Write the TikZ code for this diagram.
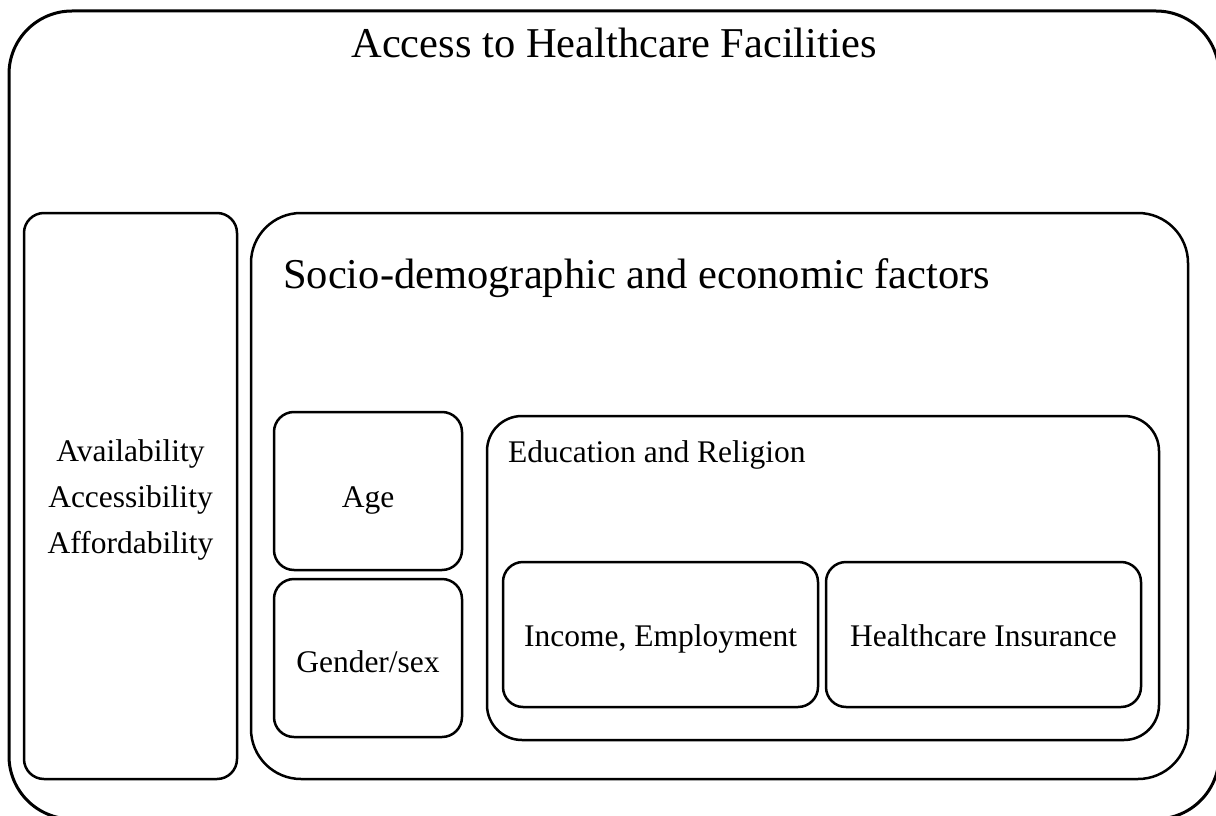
\documentclass[tikz,border=0pt]{standalone}
\usepackage{fontspec}
\setmainfont{Liberation Serif}

\begin{document}
\begin{tikzpicture}[x=1pt,y=-1pt,
  box/.style={draw=black,line width=2.5pt,rounded corners=#1},
  box/.default=20pt,
  big/.style={font=\fontsize{42.5}{50}\selectfont},
  small/.style={font=\fontsize{31.5}{46}\selectfont}]
\clip (0,0) rectangle (1216,816);
% outer frame
\draw[box=63pt,line width=3pt] (9,11) rectangle (1219,819);
\node[big,anchor=base] (title) at (614,58) {Access to Healthcare Facilities};
% left column
\draw[box] (24,213) rectangle (237,779);
\node[small,align=center,anchor=base] (aaa) at (130.5,553) {Availability\\Accessibility\\Affordability};
% socio-demographic frame
\draw[box=50pt] (251,213) rectangle (1188,779);
\node[big,anchor=base west,inner sep=0pt] (socio) at (283,288) {Socio-demographic and economic factors};
\draw[box] (274,412) rectangle (462,570);
\node[small,anchor=base] (age) at (368,507) {Age};
\draw[box] (274,579) rectangle (462,737);
\node[small,anchor=base] (gender) at (368,672) {Gender/sex};
% education frame
\draw[box=35pt] (487,416) rectangle (1159,740);
\node[small,anchor=base west,inner sep=0pt] (edu) at (508,462) {Education and Religion};
\draw[box] (503,562) rectangle (818,707);
\node[small,anchor=base] (income) at (660.5,646) {Income, Employment};
\draw[box] (826,562) rectangle (1141,707);
\node[small,anchor=base] (insur) at (983.5,646) {Healthcare Insurance};
\end{tikzpicture}
\end{document}
